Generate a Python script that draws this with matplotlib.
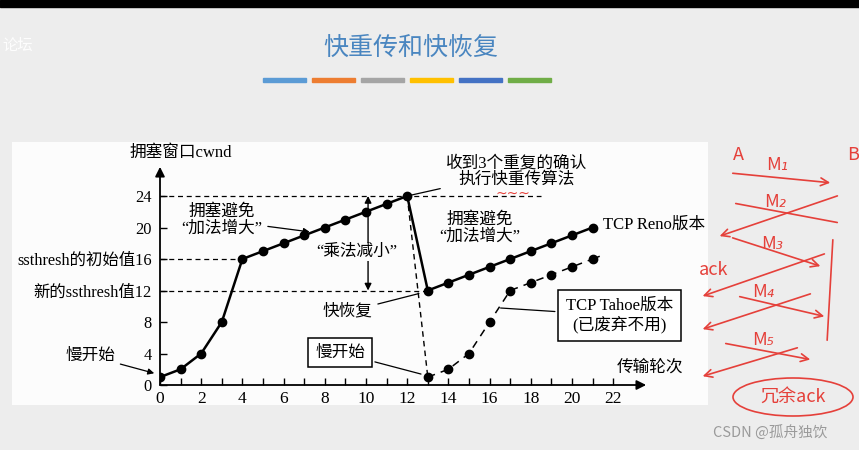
import matplotlib
matplotlib.use("Agg")
import matplotlib.pyplot as plt
from matplotlib.patches import Rectangle, Ellipse, FancyArrowPatch

W, H = 859, 450
FONT = ['Liberation Serif', 'Noto Sans CJK SC']
CJK = ['Noto Sans CJK SC', 'DejaVu Sans']

# data: transmission round vs cwnd
reno_x = [0, 1, 2, 3, 4, 5, 6, 7, 8, 9, 10, 11, 12, 13, 14, 15, 16, 17, 18, 19, 20, 21]
reno_y = [1, 2, 4, 8, 16, 17, 18, 19, 20, 21, 22, 23, 24, 12, 13, 14, 15, 16, 17, 18, 19, 20]
tahoe_x = [13, 14, 15, 16, 17, 18, 19, 20, 21]
tahoe_y = [1, 2, 4, 8, 12, 13, 14, 15, 16]
tahoe_tail_x = [21, 21.6]
tahoe_tail_y = [16, 16.6]
drop_x = [12, 13]
drop_y = [24, 1]
x_ticks = [0, 2, 4, 6, 8, 10, 12, 14, 16, 18, 20, 22]
y_ticks = [0, 4, 8, 12, 16, 20, 24]
y_labels = ['0', '4', '8', '新的ssthresh值12', 'ssthresh的初始值16', '20', '24']
bar_colors = ['#5b9bd5', '#ed7d31', '#a5a5a5', '#ffc000', '#4472c4', '#70ad47']


def fx(p):
    return p / W


def fy(p):
    return 1 - p / H


fig = plt.figure(figsize=(W / 100, H / 100), dpi=100, facecolor='#ededed')

# slide decorations
fig.patches.append(Rectangle((0, fy(7)), 1, 7 / H, transform=fig.transFigure, color='black', zorder=-2))
fig.patches.append(Rectangle((fx(12), fy(405)), fx(696), 263 / H, transform=fig.transFigure,
                             facecolor='#fcfcfc', edgecolor='none', zorder=-2))
fig.text(fx(411), fy(48), '快重传和快恢复', color='#4a86c0', fontsize=18, family=CJK,
         ha='center', va='center')
for i, c in enumerate(bar_colors):
    fig.patches.append(Rectangle((fx(263 + i * 49), fy(82)), fx(43), 4 / H,
                                 transform=fig.transFigure, color=c, zorder=-1))
fig.text(fx(2), fy(45), '论坛', color='white', fontsize=11, family=CJK, va='center', alpha=0.9)
fig.text(fx(770), fy(433), 'CSDN @孤舟独饮', color='#9a9a9a', fontsize=10.5, family=CJK,
         ha='center', va='center')

# chart axes: x 0..24, y 0..28
ax = fig.add_axes([fx(160), 65 / H, 494.4 / W, 220.5 / H])
ax.set_zorder(2)
ax.set_xlim(0, 24)
ax.set_ylim(0, 28)
ax.patch.set_alpha(0)
for s in ax.spines.values():
    s.set_visible(False)

ax.annotate('', xy=(23.6, 0), xytext=(0, 0),
            arrowprops=dict(arrowstyle='-|>', color='black', lw=1.3, mutation_scale=14, shrinkA=0, shrinkB=0))
ax.annotate('', xy=(0, 27.7), xytext=(0, 0),
            arrowprops=dict(arrowstyle='-|>', color='black', lw=1.3, mutation_scale=14, shrinkA=0, shrinkB=0))

ax.set_xticks(x_ticks)
ax.set_xticks(range(0, 23), minor=True)
ax.set_xticklabels([str(v) for v in x_ticks], family=FONT, fontsize=12.5)
ax.set_yticks(y_ticks)
ax.set_yticklabels(y_labels, family=FONT, fontsize=11.8)
ax.tick_params(axis='x', which='both', direction='in', length=5, width=1, pad=4)
ax.tick_params(axis='y', direction='in', length=5, width=1, pad=6)

# dashed reference lines
ax.plot([0, 18.5], [24, 24], color='black', lw=0.9, ls=(0, (4, 3)))
ax.plot([0, 4], [16, 16], color='black', lw=0.9, ls=(0, (4, 3)))
ax.plot([0, 13], [12, 12], color='black', lw=0.9, ls=(0, (4, 3)))

# curves
ax.plot(reno_x, reno_y, color='black', lw=1.8, marker='o', ms=6, zorder=3)
ax.plot(drop_x, drop_y, color='black', lw=1.0, ls=(0, (4, 3)), zorder=2)
ax.plot(tahoe_x, tahoe_y, color='black', lw=1.1, ls=(0, (5, 4)), marker='o', ms=6, zorder=3)
ax.plot(tahoe_tail_x, tahoe_tail_y, color='black', lw=1.1, ls=(0, (5, 4)), zorder=3)

# multiplicative decrease arrow
ax.annotate('', xy=(10.1, 12), xytext=(10.1, 24),
            arrowprops=dict(arrowstyle='<|-|>', color='black', lw=1.0, mutation_scale=10, shrinkA=0, shrinkB=0))
ax.text(9.55, 16.9, '“乘法减小”', family=FONT, fontsize=12, ha='center', va='center',
        bbox=dict(facecolor='#fcfcfc', edgecolor='none', pad=0.5), zorder=4)

line = dict(arrowstyle='-', color='black', lw=0.9)
arrow = dict(arrowstyle='-|>', color='black', lw=0.9, mutation_scale=9)

ax.text(1.0, 29.5, '拥塞窗口cwnd', family=FONT, fontsize=12, ha='center', va='center', clip_on=False)
ax.annotate('慢开始', xy=(-0.15, 1.4), xytext=(-3.4, 3.7), family=FONT, fontsize=12,
            ha='center', va='center', arrowprops=arrow, annotation_clip=False)
ax.annotate('拥塞避免\n“加法增大”', xy=(7.4, 19.4), xytext=(3.0, 20.9), family=FONT, fontsize=12,
            ha='center', va='center', linespacing=1.05, arrowprops=arrow)
ax.annotate('收到3个重复的确认\n执行快重传算法', xy=(12, 24), xytext=(17.3, 27.1), family=FONT,
            fontsize=12, ha='center', va='center', linespacing=1.1, arrowprops=line,
            annotation_clip=False)
ax.text(15.5, 19.9, '拥塞避免\n“加法增大”', family=FONT, fontsize=12, ha='center', va='center',
        linespacing=1.05)
ax.text(21.5, 20.3, 'TCP Reno版本', family=FONT, fontsize=12, ha='left', va='center', clip_on=False)
ax.annotate('快恢复', xy=(12.7, 11.7), xytext=(9.1, 9.3), family=FONT, fontsize=12,
            ha='center', va='center', arrowprops=line)
ax.annotate('慢开始', xy=(12.8, 1.3), xytext=(8.74, 4.1), family=FONT, fontsize=12,
            ha='center', va='center', arrowprops=line,
            bbox=dict(boxstyle='square,pad=0.4', facecolor='white', edgecolor='black', lw=1.1))
ax.annotate('TCP Tahoe版本\n(已废弃不用)', xy=(16.4, 9.8), xytext=(22.3, 8.8), family=FONT,
            fontsize=12, ha='center', va='center', linespacing=1.15, arrowprops=line,
            annotation_clip=False,
            bbox=dict(boxstyle='square,pad=0.45', facecolor='white', edgecolor='black', lw=1.1))
ax.text(23.8, 2.2, '传输轮次', family=FONT, fontsize=12, ha='center', va='center', clip_on=False)

# red handwriting on the slide
red = '#e5403a'


def stroke(x0, y0, x1, y1, head=False):
    a = FancyArrowPatch((fx(x0), fy(y0)), (fx(x1), fy(y1)), transform=fig.transFigure,
                        arrowstyle='->' if head else '-', color=red, lw=1.2,
                        mutation_scale=14)
    fig.patches.append(a)


for t, x, y in [('A', 738, 155), ('B', 853, 155), ('M₁', 777, 165), ('M₂', 775, 202),
                ('M₃', 772, 244), ('M₄', 763, 292), ('M₅', 763, 340), ('ack', 714, 270)]:
    fig.text(fx(x), fy(y), t, color=red, fontsize=13, family=CJK, ha='center', va='center',
             style='italic')
stroke(730, 173, 833, 183, head=True)
stroke(733, 203, 840, 223)
stroke(840, 195, 717, 237, head=True)
stroke(730, 237, 823, 267, head=True)
stroke(833, 237, 827, 343)
stroke(827, 253, 700, 297, head=True)
stroke(737, 296, 827, 317, head=True)
stroke(813, 293, 700, 330, head=True)
stroke(723, 343, 813, 360, head=True)
stroke(800, 347, 700, 377, head=True)
fig.patches.append(Ellipse((fx(793), fy(397)), 120 / W, 38 / H, transform=fig.transFigure,
                           facecolor='none', edgecolor=red, lw=1.2))
fig.text(fx(793), fy(397), '冗余ack', color=red, fontsize=13, family=CJK, ha='center', va='center')
fig.text(fx(513), fy(194), '~~~', color=red, fontsize=10, ha='center', va='center')

fig.savefig('out.png', dpi=100, facecolor=fig.get_facecolor())
